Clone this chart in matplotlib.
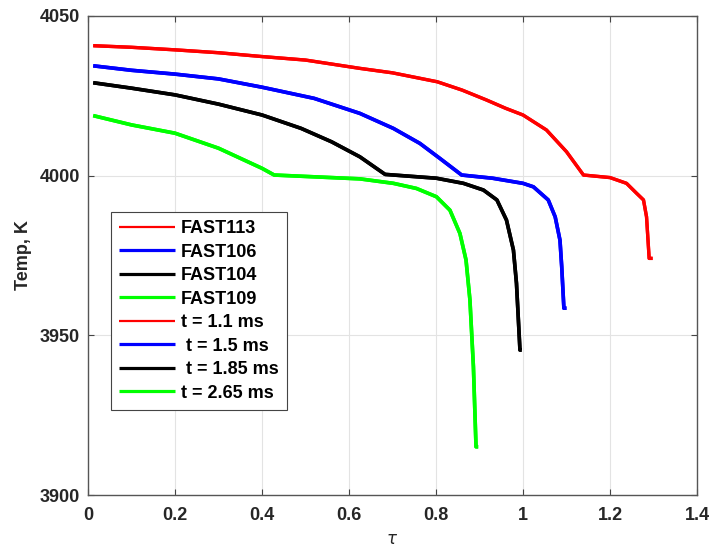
import matplotlib
matplotlib.use("Agg")
import matplotlib.pyplot as plt

# ---- data ----
tau_113 = [0.012, 0.1, 0.2, 0.3, 0.4, 0.5, 0.625, 0.7, 0.803, 0.86, 0.916, 0.96, 1.0,
           1.054, 1.10, 1.139, 1.2, 1.238, 1.261, 1.277, 1.284, 1.29, 1.298]
temp_113 = [4040.7, 4040.2, 4039.4, 4038.5, 4037.3, 4036.2, 4033.6, 4032.2, 4029.4, 4026.8,
            4023.7, 4021.1, 4019.0, 4014.3, 4007.5, 4000.2, 3999.4, 3997.6, 3994.5, 3992.4,
            3987.1, 3974.1, 3974.1]

tau_106 = [0.012, 0.1, 0.2, 0.3, 0.4, 0.52, 0.625, 0.702, 0.763, 0.809, 0.859, 0.93, 1.0,
           1.024, 1.058, 1.074, 1.085, 1.089, 1.094, 1.100]
temp_106 = [4034.4, 4033.0, 4031.8, 4030.3, 4027.7, 4024.2, 4019.5, 4014.8, 4010.1, 4005.4,
            4000.2, 3999.2, 3997.6, 3996.5, 3992.4, 3987.1, 3979.8, 3971.5, 3958.5, 3958.5]

tau_104 = [0.012, 0.1, 0.2, 0.3, 0.4, 0.49, 0.56, 0.625, 0.683, 0.801, 0.863, 0.909, 0.94,
           0.962, 0.978, 0.985, 0.993, 0.997]
temp_104 = [4029.1, 4027.4, 4025.3, 4022.4, 4019.0, 4014.8, 4010.6, 4005.9, 4000.4, 3999.2,
            3997.6, 3995.5, 3992.4, 3986.1, 3976.7, 3966.3, 3945.4, 3945.4]

tau_109 = [0.012, 0.1, 0.2, 0.3, 0.4, 0.428, 0.625, 0.702, 0.755, 0.801, 0.832, 0.855, 0.869,
           0.878, 0.886, 0.892, 0.897]
temp_109 = [4018.8, 4015.9, 4013.3, 4008.6, 4002.3, 4000.2, 3999.0, 3997.6, 3996.0, 3993.4,
            3989.2, 3981.9, 3973.6, 3961.1, 3940.2, 3915.1, 3915.1]

fast_labels = ["FAST113", "FAST106", "FAST104", "FAST109"]
time_labels = ["t = 1.1 ms", " t = 1.5 ms", " t = 1.85 ms", "t = 2.65 ms"]
colors = ["#ff0000", "#0000ff", "#000000", "#00ff00"]
x_ticks = [0, 0.2, 0.4, 0.6, 0.8, 1.0, 1.2, 1.4]
x_ticklabels = ["0", "0.2", "0.4", "0.6", "0.8", "1", "1.2", "1.4"]
y_ticks = [3900, 3950, 4000, 4050]

series = [(tau_113, temp_113), (tau_106, temp_106), (tau_104, temp_104), (tau_109, temp_109)]
plot_widths = [2.4, 2.6, 2.6, 2.6]
legend_widths = [1.6, 2.3, 2.3, 2.3, 1.6, 2.3, 2.3, 2.3]

fig = plt.figure(figsize=(7.11, 5.52), dpi=100)
ax = fig.add_axes([88/711, (552-495)/552, 609/711, 479/552])

handles = []
for (x, y), c, lab, w in zip(series, colors, fast_labels, plot_widths):
    h, = ax.plot(x, y, color=c, lw=w, label=lab, solid_capstyle='butt')
    handles.append(h)
for (x, y), c, lab, w in zip(series, colors, time_labels, plot_widths):
    h, = ax.plot(x, y, color=c, lw=w, label=lab, solid_capstyle='butt')
    handles.append(h)

ax.set_xlim(0, 1.4)
ax.set_ylim(3900, 4050)
ax.set_xticks(x_ticks)
ax.set_xticklabels(x_ticklabels)
ax.set_yticks(y_ticks)
ax.grid(True, color='#e3e3e3', lw=0.8)
ax.set_axisbelow(True)

for sp in ax.spines.values():
    sp.set_color('#555555')
    sp.set_linewidth(1.0)

ax.tick_params(direction='in', top=True, right=True, length=4, width=0.8,
               color='#444444', labelsize=13)
ax.tick_params(axis='x', pad=9)
ax.tick_params(axis='y', pad=6)
for lbl in ax.get_xticklabels() + ax.get_yticklabels():
    lbl.set_fontfamily('Liberation Sans')
    lbl.set_fontweight('bold')
    lbl.set_color('#262626')

ax.set_ylabel("Temp, K", fontfamily='Liberation Sans', fontweight='bold',
              fontsize=13, color='#262626', labelpad=5)
ax.set_xlabel(r"$\tau$", fontsize=12, color='#262626', labelpad=4)

leg = ax.legend(handles=handles, loc='upper left', bbox_to_anchor=(0.038, 0.591),
                borderaxespad=0, fancybox=False, framealpha=1, edgecolor='#444444',
                handlelength=3.1, handletextpad=0.3, labelspacing=0.36,
                borderpad=0.45, prop={'family': 'Liberation Sans', 'weight': 'bold', 'size': 13})
leg.get_frame().set_linewidth(0.8)
for ln, w in zip(leg.get_lines(), legend_widths):
    ln.set_linewidth(w)

fig.savefig("out.png", dpi=100)
